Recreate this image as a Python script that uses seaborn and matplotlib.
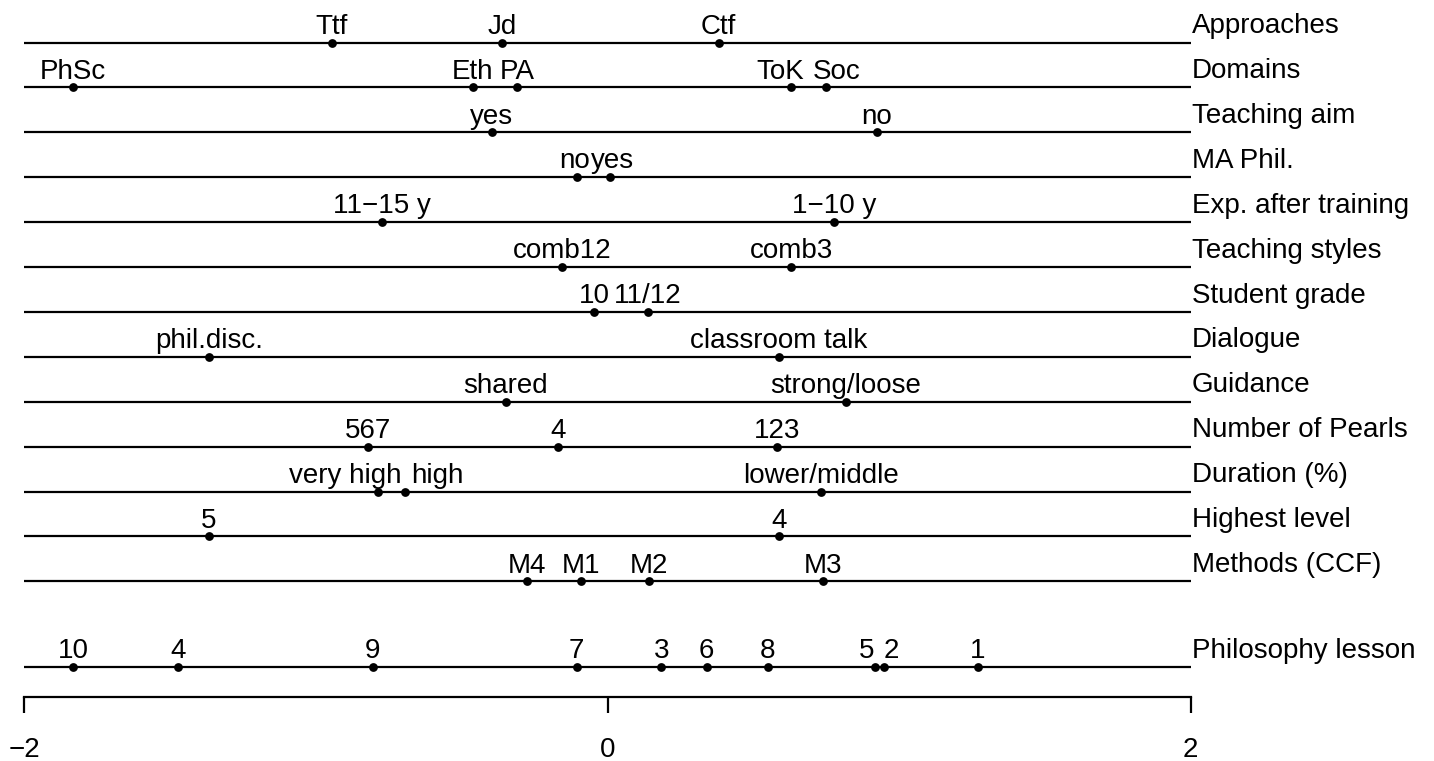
import numpy as np
import pandas as pd
import matplotlib
matplotlib.use("Agg")
import matplotlib.pyplot as plt
import seaborn as sns

# Variables (one line each, top to bottom) and their category points
variables = ["Approaches", "Domains", "Teaching aim", "MA Phil.",
             "Exp. after training", "Teaching styles", "Student grade",
             "Dialogue", "Guidance", "Number of Pearls", "Duration (%)",
             "Highest level", "Methods (CCF)", "Philosophy lesson"]

approaches_lab = ["Ttf", "Jd", "Ctf"]
approaches_val = [-0.945, -0.363, 0.381]
domains_lab = ["PhSc", "Eth", "PA", "ToK", "Soc"]
domains_val = [-1.833, -0.463, -0.310, 0.629, 0.750]
aim_lab = ["yes", "no"]
aim_val = [-0.397, 0.923]
ma_lab = ["no", "yes"]
ma_val = [-0.105, 0.009]
exp_lab = ["11\u221215 y", "1\u221210 y"]
exp_val = [-0.773, 0.776]
styles_lab = ["comb12", "comb3"]
styles_val = [-0.157, 0.630]
grade_lab = ["10", "11/12"]
grade_val = [-0.045, 0.138]
dialogue_lab = ["phil.disc.", "classroom talk"]
dialogue_val = [-1.368, 0.587]
guidance_lab = ["shared", "strong/loose"]
guidance_val = [-0.349, 0.817]
pearls_lab = ["567", "4", "123"]
pearls_val = [-0.823, -0.171, 0.583]
duration_lab = ["very high", "high", "lower/middle"]
duration_val = [-0.788, -0.695, 0.732]
level_lab = ["5", "4"]
level_val = [-1.368, 0.587]
methods_lab = ["M4", "M1", "M2", "M3"]
methods_val = [-0.277, -0.092, 0.143, 0.740]
lesson_lab = ["10", "4", "9", "7", "3", "6", "8", "5", "2", "1"]
lesson_val = [-1.833, -1.472, -0.805, -0.106, 0.184, 0.340, 0.550, 0.916, 0.947, 1.271]

labels = [approaches_lab, domains_lab, aim_lab, ma_lab, exp_lab, styles_lab,
          grade_lab, dialogue_lab, guidance_lab, pearls_lab, duration_lab,
          level_lab, methods_lab, lesson_lab]
values = [approaches_val, domains_val, aim_val, ma_val, exp_val, styles_val,
          grade_val, dialogue_val, guidance_val, pearls_val, duration_val,
          level_val, methods_val, lesson_val]

xticks = [-2, 0, 2]

# row positions: the lesson line sits a bit lower than the others
rows = [float(i) for i in range(13)] + [13.91]

records = []
for var, r, labs, vals in zip(variables, rows, labels, values):
    for lab, v in zip(labs, vals):
        records.append({"variable": var, "row": r, "label": lab, "value": v})
df = pd.DataFrame(records)

sns.set_theme(style="white")
plt.rcParams["font.family"] = ["Liberation Sans", "DejaVu Sans"]
plt.rcParams["text.color"] = "black"

fig = plt.figure(figsize=(14.34, 7.61), dpi=100)
ax = fig.add_axes([0, 0, 1, 1])

lw = 1.6
ax.hlines(rows, -2, 2, color="black", linewidth=lw)
sns.scatterplot(data=df, x="value", y="row", color="black", s=40,
                linewidth=0, ax=ax, legend=False, zorder=3)

ax.set_xlim(-2.084, 2.835)
ax.set_ylim(16.0, -0.947)

# category labels above the points
texts = {}
for i, rec in df.iterrows():
    t = ax.annotate(rec["label"], (rec["value"], rec["row"]), xytext=(0, 6.3),
                    textcoords="offset points", ha="center", va="baseline",
                    fontsize=20, color="black")
    texts[i] = t

# push apart labels on the same line that overlap
fig.canvas.draw()
renderer = fig.canvas.get_renderer()
px_to_pt = 72.0 / fig.dpi
gap = 9.0
for var, grp in df.groupby("variable", sort=False):
    grp = grp.sort_values("value")
    idx = list(grp.index)
    boxes = []
    for i in idx:
        bb = texts[i].get_window_extent(renderer)
        boxes.append([(bb.x0 + bb.x1) / 2, bb.width])
    shift = [0.0] * len(idx)
    for k in range(len(idx) - 1):
        c1, w1 = boxes[k][0] + shift[k], boxes[k][1]
        c2, w2 = boxes[k + 1][0] + shift[k + 1], boxes[k + 1][1]
        overlap = (c1 + w1 / 2) - (c2 - w2 / 2)
        if overlap > 4:
            need = overlap + gap
        elif overlap > -1:
            need = overlap + 1.5
        else:
            need = 0
        shift[k] -= need / 2
        shift[k + 1] += need / 2
    for i, s in zip(idx, shift):
        if s != 0:
            texts[i].xyann = (s * px_to_pt, 6.3)

for var, r in zip(variables, rows):
    ax.annotate(var, (2, r), xytext=(0.8, 6.8), textcoords="offset points",
                ha="left", va="baseline", fontsize=20, color="black")

for side in ["top", "right", "left"]:
    ax.spines[side].set_visible(False)
ax.spines["bottom"].set_position(("data", 14.58))
ax.spines["bottom"].set_bounds(-2, 2)
ax.spines["bottom"].set_linewidth(lw)
ax.spines["bottom"].set_color("black")
ax.set_xticks(xticks)
ax.set_xticklabels(["\u22122", "0", "2"])
ax.tick_params(axis="x", direction="out", length=11.5, width=lw,
               color="black", labelcolor="black", labelsize=20, pad=17,
               bottom=True)
ax.set_yticks([])
ax.set_xlabel("")
ax.set_ylabel("")

fig.savefig("out.png", dpi=100)
